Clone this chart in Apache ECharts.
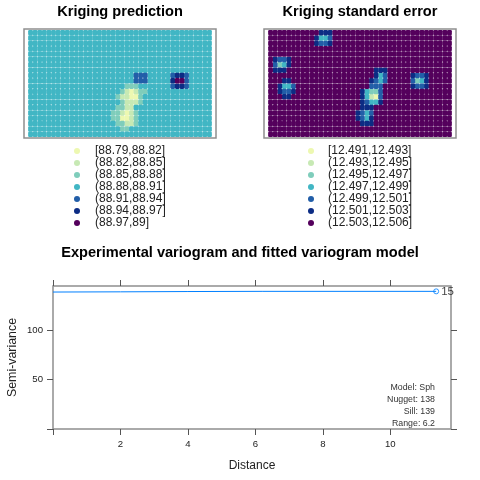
<!DOCTYPE html>
<html><head><meta charset="utf-8">
<style>html,body{margin:0;padding:0;background:#fff}#c{width:480px;height:480px}</style>
<script src="https://cdn.jsdelivr.net/npm/echarts@6/dist/echarts.min.js"></script>
</head><body><div id="c"></div>
<script>
var classColors = ['#EDF8B1','#C7E9B4','#7FCDBB','#41B6C4','#225EA8','#0C2C84','#54005C'];
var predLabels = ['[88.79,88.82]','(88.82,88.85]','(88.85,88.88]','(88.88,88.91]','(88.91,88.94]','(88.94,88.97]','(88.97,89]'];
var seLabels = ['[12.491,12.493]','(12.493,12.495]','(12.495,12.497]','(12.497,12.499]','(12.499,12.501]','(12.501,12.503]','(12.503,12.506]'];
var predRows = [
'3333333333 3333333333 3333333333 3333333333',
'3333333333 3333333333 3333333333 3333333333',
'3333333333 3333333333 3333333333 3333333333',
'3333333333 3333333333 3333333333 3333333333',
'3333333333 3333333333 3333333333 3333333333',
'3333333333 3333333333 3333333333 3333333333',
'3333333333 3333333333 3333333333 3333333333',
'3333333333 3333333333 3333333333 3333333333',
'3333333333 3333333333 3334443333 3455433333',
'3333333333 3333333333 3334443333 3566433333',
'3333333333 3333333333 3222333333 3455433333',
'3333333333 3333333333 2101223333 3333333333',
'3333333333 3333333332 1100233333 3333333333',
'3333333333 3333333333 2111233333 3333333333',
'3333333333 3333333332 2113333333 3333333333',
'3333333333 3333333322 1012333333 3333333333',
'3333333333 3333333322 0012333333 3333333333',
'3333333333 3333333332 2112333333 3333333333',
'3333333333 3333333333 2233333333 3333333333',
'3333333333 3333333333 3333333333 3333333333'];
var seRows = [
'6666666666 6555666666 6666666666 6666666666',
'6666666666 5334666666 6666666666 6666666666',
'6666666666 5445666666 6666666666 6666666666',
'6666666666 6666666666 6666666666 6666666666',
'6666666666 6666666666 6666666666 6666666666',
'6544566666 6666666666 6666666666 6666666666',
'6423566666 6666666666 6666666666 6666666666',
'6555666666 6666666666 6665556666 6666666666',
'6666666666 6666666666 6665346666 6544566666',
'6665566666 6666666666 6654346666 6423566666',
'6653346666 6666666666 6644466666 6544566666',
'6654456666 6666666666 5322466666 6666666666',
'6665566666 6666666666 5310466666 6666666666',
'6666666666 6666666666 5433566666 6666666666',
'6666666666 6666666666 5556666666 6666666666',
'6666666666 6666666665 4346666666 6666666666',
'6666666666 6666666665 4356666666 6666666666',
'6666666666 6666666666 5556666666 6666666666',
'6666666666 6666666666 6666666666 6666666666',
'6666666666 6666666666 6666666666 6666666666'];
var fitDistance = [0, 2, 4, 6.2, 11.36];
var fitSemivariance = [138.3, 138.5, 138.8, 139, 139];
var expDistance = [11.36];
var expSemivariance = [139];
var expPairs = [15];
var distanceTicks = [0, 2, 4, 6, 8, 10];
var distanceTickLabels = [2, 4, 6, 8, 10];
var semivarTicks = [0, 50, 100];
var semivarTickLabels = [50, 100];
var modelNotes = ['Model: Sph', 'Nugget: 138', 'Sill: 139', 'Range: 6.2'];

var FONT = '"Liberation Sans", Arial, sans-serif';
var FRAME = '#8f8f8f';

function classSeries(rows, labels, axisIndex) {
  return labels.map(function (name, k) {
    var pts = [];
    rows.forEach(function (row, r) {
      row.replace(/ /g, '').split('').forEach(function (ch, c) {
        if (+ch === k) pts.push([c, r]);
      });
    });
    return {
      type: 'scatter', name: name, xAxisIndex: axisIndex, yAxisIndex: axisIndex,
      data: pts, symbol: 'roundRect', symbolSize: [4.85, 5.5], silent: true,
      itemStyle: { color: classColors[k], opacity: 1 }
    };
  });
}
function mapX(i) { return { gridIndex: i, type: 'value', min: -1.43, max: 40.43, show: false }; }
function mapY(i) { return { gridIndex: i, type: 'value', min: -0.69, max: 19.69, inverse: true, show: false }; }
function legendAt(left, labels, pad) {
  return {
    orient: 'vertical', left: left, top: 145, padding: 0, data: labels, selectedMode: false,
    icon: 'circle', itemWidth: 6, itemHeight: 6, itemGap: 0,
    textStyle: { fontFamily: FONT, fontSize: 12, color: '#222', lineHeight: 12, padding: [0, 0, 0, pad] }
  };
}
function titleAt(x, y, text) {
  return { text: text, left: x, top: y, padding: 0, textAlign: 'center',
    textStyle: { fontFamily: FONT, fontSize: 14.6, fontWeight: 'bold', color: '#000' } };
}
function distAxis(pos, labelled) {
  return {
    gridIndex: 2, type: 'value', position: pos, min: 0, max: 11.8,
    name: labelled ? 'Distance' : '', nameLocation: 'middle', nameGap: 31, nameMoveOverlap: false,
    nameTextStyle: { fontFamily: FONT, fontSize: 12, color: '#222' },
    axisLine: { show: false, onZero: false }, splitLine: { show: false },
    axisTick: { show: true, inside: false, length: 6, customValues: distanceTicks, lineStyle: { color: '#555', width: 1 } },
    axisLabel: { show: labelled, customValues: distanceTickLabels, margin: 10, fontFamily: FONT, fontSize: 9.6, color: '#222' }
  };
}
function semiAxis(pos, labelled) {
  return {
    gridIndex: 2, type: 'value', position: pos, min: 0, max: 144.4,
    name: labelled ? 'Semi-variance' : '', nameLocation: 'middle', nameGap: 34, nameRotate: 90, nameMoveOverlap: false,
    nameTextStyle: { fontFamily: FONT, fontSize: 12.4, color: '#222' },
    axisLine: { show: false, onZero: false }, splitLine: { show: false },
    axisTick: { show: true, inside: false, length: 6, customValues: semivarTicks, lineStyle: { color: '#555', width: 1 } },
    axisLabel: { show: labelled, customValues: semivarTickLabels, margin: 10, fontFamily: FONT, fontSize: 9.6, color: '#222' }
  };
}
var notes = modelNotes.map(function (t, i) {
  return { type: 'text', x: 435, y: 388 + i * 12, silent: true,
    style: { text: t, align: 'right', verticalAlign: 'middle', fill: '#333', font: '8.8px ' + FONT } };
});
var gridBase = { show: true, borderColor: FRAME, borderWidth: 1.5, backgroundColor: '#fff', outerBoundsMode: 'none' };
function gridAt(left, top, width, height) {
  return Object.assign({ left: left, top: top, width: width, height: height }, gridBase);
}
var option = {
  animation: false, backgroundColor: '#fff',
  title: [titleAt(120, 4, 'Kriging prediction'), titleAt(360, 4, 'Kriging standard error'),
          titleAt(240, 245, 'Experimental variogram and fitted variogram model')],
  legend: [legendAt(74, predLabels, 10), legendAt(308, seLabels, 9)],
  grid: [gridAt(24, 29, 192, 109), gridAt(264, 29, 192, 109), gridAt(53, 286, 398, 143)],
  xAxis: [mapX(0), mapX(1), distAxis('bottom', true), distAxis('top', false)],
  yAxis: [mapY(0), mapY(1), semiAxis('left', true), semiAxis('right', false)],
  series: classSeries(predRows, predLabels, 0).concat(classSeries(seRows, seLabels, 1)).concat([
    { type: 'line', xAxisIndex: 2, yAxisIndex: 2, silent: true, showSymbol: false, symbol: 'none',
      data: fitDistance.map(function (d, i) { return [d, fitSemivariance[i]]; }),
      lineStyle: { color: '#0080ff', width: 1 } },
    { type: 'scatter', xAxisIndex: 2, yAxisIndex: 2, silent: true, symbol: 'circle', symbolSize: 5,
      data: expDistance.map(function (d, i) { return [d, expSemivariance[i], expPairs[i]]; }),
      itemStyle: { color: '#fff', borderColor: '#0080ff', borderWidth: 1 },
      label: { show: true, position: 'right', distance: 2, formatter: function (p) { return p.data[2]; },
        fontFamily: FONT, fontSize: 11.5, color: '#111' } }
  ]),
  graphic: notes
};
echarts.init(document.getElementById('c'), null, { renderer: 'canvas' }).setOption(option);
</script></body></html>
